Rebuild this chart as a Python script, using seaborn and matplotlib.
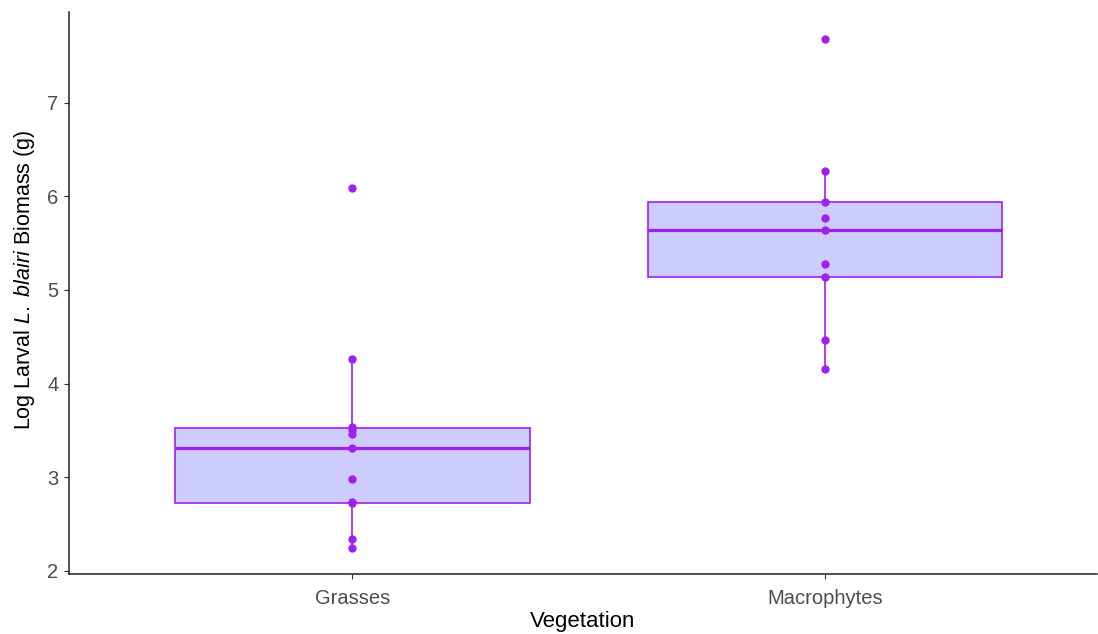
import matplotlib
matplotlib.use("Agg")
import matplotlib.pyplot as plt
import seaborn as sns
import pandas as pd

# Log larval biomass per site, by vegetation type
grasses = [6.09, 4.26, 3.54, 3.50, 3.46, 3.31, 2.98, 2.73, 2.72, 2.34, 2.24]
macrophytes = [7.68, 6.27, 5.94, 5.77, 5.64, 5.28, 5.14, 4.47, 4.15]
categories = ["Grasses", "Macrophytes"]
y_ticks = [2, 3, 4, 5, 6, 7]

df = pd.DataFrame({
    "Vegetation": [categories[0]] * len(grasses) + [categories[1]] * len(macrophytes),
    "Biomass": grasses + macrophytes,
})

sns.set_theme(style="white")
plt.rcParams["font.family"] = ["Liberation Sans", "DejaVu Sans"]
plt.rcParams["mathtext.fontset"] = "custom"
plt.rcParams["mathtext.rm"] = "Liberation Sans"
plt.rcParams["mathtext.it"] = "Liberation Sans:italic"

purple = "#A020F0"
fill = "#CCCCFF"

fig = plt.figure(figsize=(10.98, 6.34), dpi=100)
ax = fig.add_axes([69 / 1098, 60.5 / 634, 1028 / 1098, 561.5 / 634])

sns.boxplot(
    data=df, x="Vegetation", y="Biomass", order=categories,
    width=0.75, color=fill, linecolor=purple, linewidth=1.2,
    showfliers=False, showcaps=False, whis=1.5,
    boxprops={"facecolor": fill, "edgecolor": purple},
    medianprops={"color": purple, "linewidth": 2.3},
    whiskerprops={"color": purple, "linewidth": 1.2},
    ax=ax,
)
sns.stripplot(
    data=df, x="Vegetation", y="Biomass", order=categories,
    jitter=False, color=purple, size=6, linewidth=0, zorder=5, ax=ax,
)

ax.set_xlim(-0.6, 1.576)
ax.set_ylim(1.97, 7.97)
ax.set_yticks(y_ticks)
ax.set_yticklabels([str(t) for t in y_ticks])

for side in ["top", "right"]:
    ax.spines[side].set_visible(False)
for side in ["left", "bottom"]:
    ax.spines[side].set_color("#222222")
    ax.spines[side].set_linewidth(1.1)

ax.tick_params(axis="both", which="major", length=3.5, width=0.8,
               color="#333333", labelcolor="#4D4D4D", labelsize=14.5,
               left=True, bottom=True)
ax.tick_params(axis="x", pad=8)
ax.tick_params(axis="y", pad=4)

ax.set_xlabel("Vegetation", fontsize=16, color="black")
ax.xaxis.label.set_verticalalignment("baseline")
ax.xaxis.set_label_coords(0.5, -0.0953)
ax.set_ylabel(r"Log Larval $\it{L.}$ $\it{blairi}$ Biomass (g)", fontsize=15.5,
              color="black")
ax.yaxis.set_label_coords(-0.031, 0.523)

fig.savefig("out.png", dpi=100)
